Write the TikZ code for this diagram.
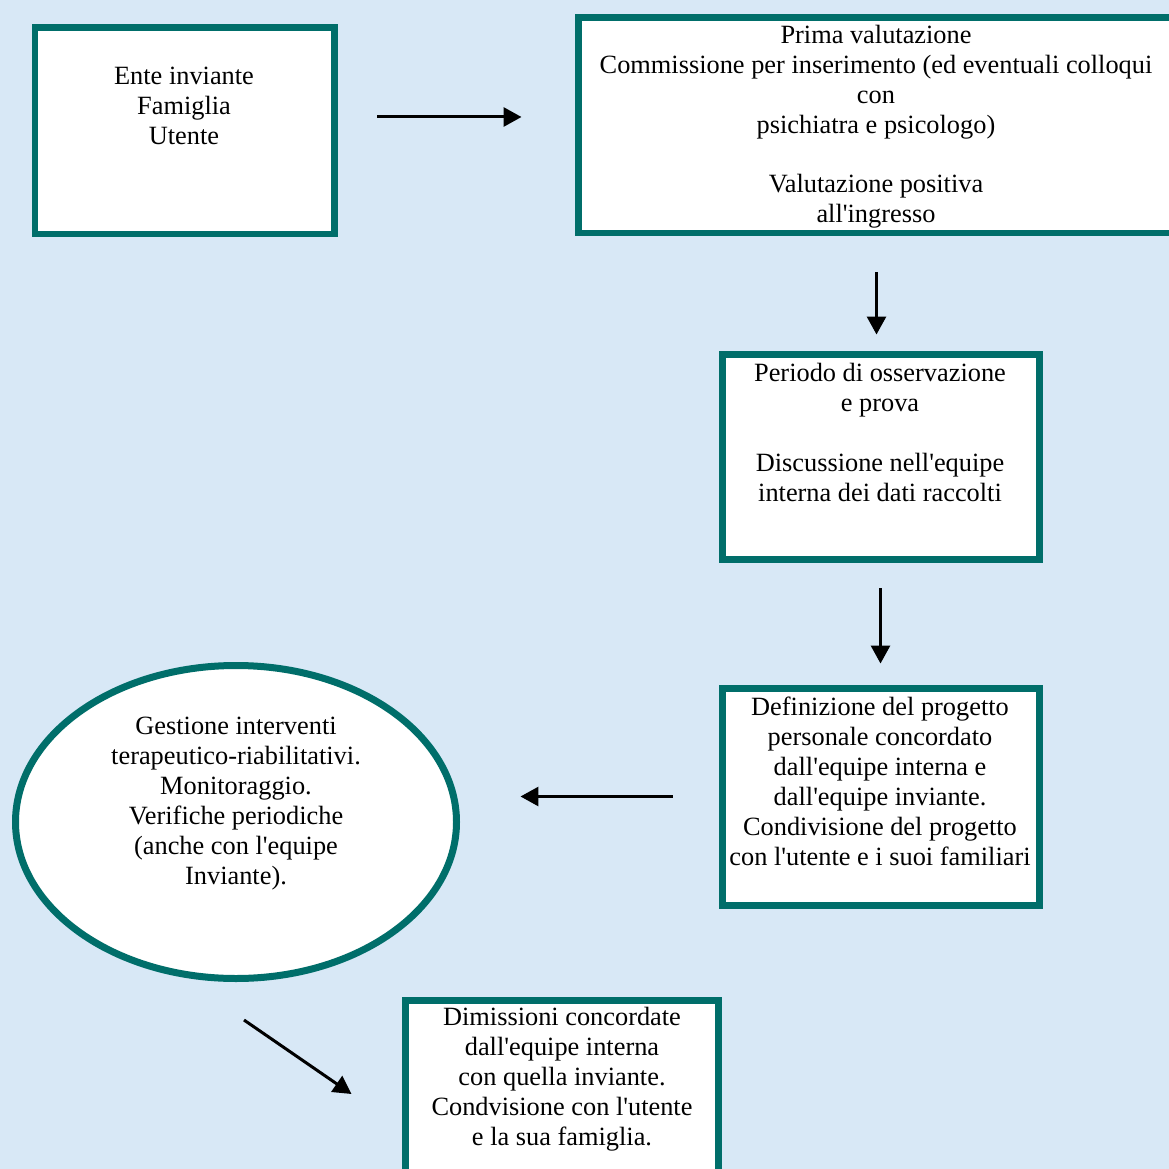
\documentclass[tikz,border=0pt]{standalone}
\usepackage{fontspec}
\setmainfont{Liberation Serif}
\usepackage{tikz}
\usetikzlibrary{arrows.meta,shapes.geometric}
\definecolor{boxteal}{HTML}{006E6A}
\definecolor{paper}{HTML}{D8E8F6}
\tikzstyle{stage} = [draw=boxteal, line width=0.14cm, fill=white, inner sep=0pt]
\tikzstyle{oval} = [stage, ellipse]
\tikzstyle{txt} = [align=center, inner sep=0pt, anchor=north, font=\fontsize{15}{17}\selectfont]
\tikzstyle{arrow} = [line width=0.06cm, -{Triangle[length=0.36cm, width=0.38cm]}]
\newcommand{\ap}{\textquotesingle}

\begin{document}
\begin{tikzpicture}[x=0.02cm, y=-0.02cm]
	\useasboundingbox (0, 0) rectangle (1169, 1169);
	\clip (0, 0) rectangle (1169, 1169);
	\fill[paper](0, 0) rectangle (1169, 1169);

	\node[stage, minimum width=299*0.02cm, minimum height=206*0.02cm](ente) at (184.5, 131){};
	\node[stage, minimum width=597*0.02cm, minimum height=215*0.02cm](prima) at (876.5, 125.5){};
	\node[stage, minimum width=317*0.02cm, minimum height=205*0.02cm](oss) at (880.5, 456.5){};
	\node[stage, minimum width=317*0.02cm, minimum height=217*0.02cm](def) at (880.5, 796.5){};
	\node[oval, minimum width=441*0.02cm, minimum height=313*0.02cm](gest) at (236, 822){};
	\node[stage, minimum width=313*0.02cm, minimum height=200*0.02cm](dim) at (561.5, 1100.5){};

	\node[txt](ente text) at (184, 67){Ente inviante\\Famiglia\\Utente};
	\node[txt](prima text) at (876, 25){Prima valutazione\\Commissione per inserimento (ed eventuali colloqui\\con\\psichiatra e psicologo)\\[17pt]Valutazione positiva\\all\ap ingresso};
	\node[txt](oss text) at (880, 363){Periodo di osservazione\\e prova\\[17pt]Discussione nell\ap equipe\\interna dei dati raccolti};
	\node[txt](def text) at (880, 697){Definizione del progetto\\personale concordato\\dall\ap equipe interna e\\dall\ap equipe inviante.\\Condivisione del progetto\\con l\ap utente e i suoi familiari};
	\node[txt](gest text) at (236, 717){Gestione interventi\\terapeutico-riabilitativi.\\Monitoraggio.\\Verifiche periodiche\\(anche con l\ap equipe\\Inviante).};
	\node[txt](dim text) at (562, 1007){Dimissioni concordate\\dall\ap equipe interna\\con quella inviante.\\Condvisione con l\ap utente\\e la sua famiglia.};

	\draw[arrow, shorten <=0.8cm, shorten >=1.06cm]([shift={(0, -14)}]ente.east) -- ([shift={(0, -14)}]ente.east -| prima.west);
	\draw[arrow, shorten <=0.72cm, shorten >=0.32cm](prima.south) -- (prima.south |- oss.north);
	\draw[arrow, shorten <=0.52cm, shorten >=0.42cm](oss.south) -- (def.north);
	\draw[arrow, shorten <=0.92cm, shorten >=1.21cm](def.west) -- (def.west -| gest.east);
	\draw[arrow]([shift={(8, 38)}]gest.south) -- ([shift={(-50, 97)}]dim.north west);
\end{tikzpicture}
\end{document}
